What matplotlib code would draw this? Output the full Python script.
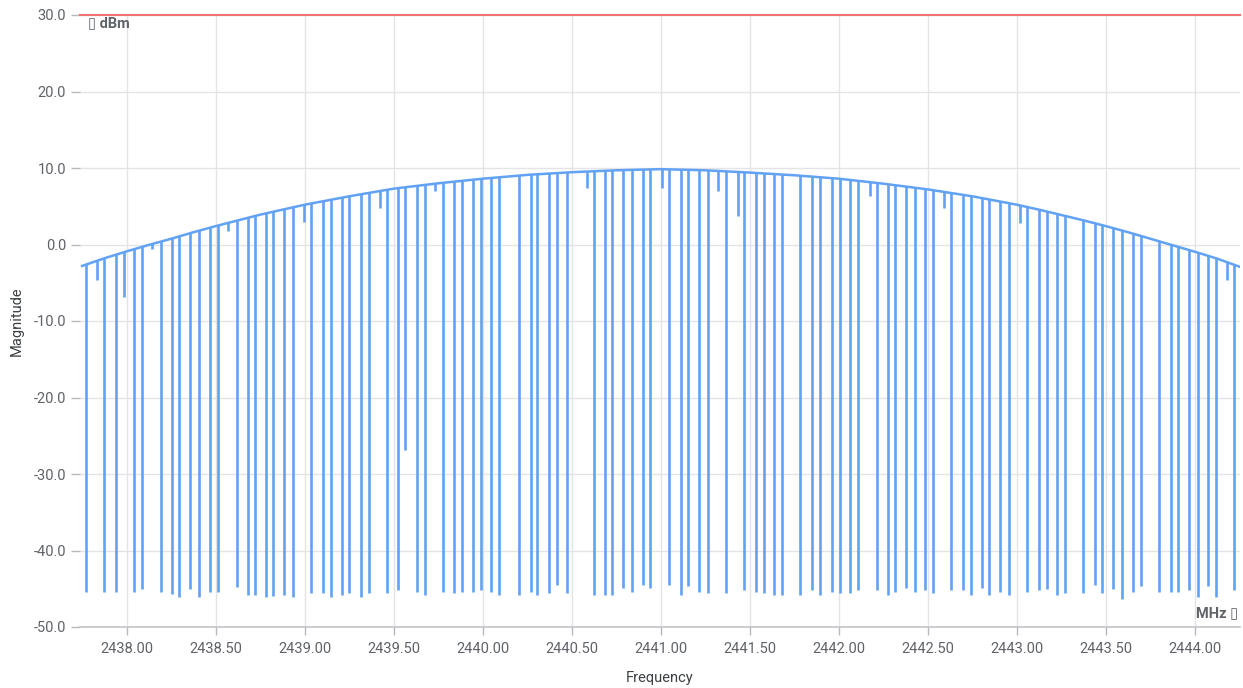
import matplotlib
matplotlib.use("Agg")
import matplotlib.pyplot as plt
from matplotlib.patches import Polygon
from matplotlib.ticker import FixedLocator, FormatStrFormatter

plt.rcParams['font.family'] = ['Roboto', 'DejaVu Sans']

# Spectrum envelope (MHz, dBm)
env_freq = [2437.75, 2437.875, 2438.00, 2438.125, 2438.25, 2438.375, 2438.50, 2438.625,
            2438.75, 2438.875, 2439.00, 2439.25, 2439.50, 2439.75, 2440.00, 2440.25,
            2440.50, 2440.75, 2441.00, 2441.25, 2441.50, 2441.75, 2442.00, 2442.25,
            2442.50, 2442.75, 2443.00, 2443.125, 2443.25, 2443.375, 2443.50, 2443.625,
            2443.75, 2443.875, 2444.00, 2444.125, 2444.25]
env_level = [-2.8, -1.8, -0.9, -0.05, 0.75, 1.6, 2.4, 3.15,
             3.9, 4.55, 5.2, 6.3, 7.3, 8.0, 8.6, 9.1,
             9.45, 9.7, 9.85, 9.7, 9.4, 9.05, 8.6, 7.95,
             7.2, 6.3, 5.2, 4.55, 3.85, 3.15, 2.4, 1.6,
             0.75, -0.1, -0.95, -1.85, -2.9]

# Notches in the spectrum: centre frequency (MHz) and floor (dBm)
dip_freq = [2437.770, 2437.835, 2437.873, 2437.938, 2437.985, 2438.041, 2438.086, 2438.144,
            2438.191, 2438.254, 2438.292, 2438.356, 2438.404, 2438.468, 2438.513, 2438.571,
            2438.618, 2438.681, 2438.721, 2438.782, 2438.823, 2438.885, 2438.932, 2438.996,
            2439.035, 2439.101, 2439.146, 2439.211, 2439.249, 2439.314, 2439.359, 2439.423,
            2439.460, 2439.522, 2439.563, 2439.629, 2439.675, 2439.732, 2439.777, 2439.840,
            2439.882, 2439.945, 2439.990, 2440.046, 2440.093, 2440.203, 2440.269, 2440.306,
            2440.370, 2440.417, 2440.473, 2440.584, 2440.623, 2440.686, 2440.724, 2440.789,
            2440.836, 2440.901, 2440.939, 2441.005, 2441.048, 2441.113, 2441.151, 2441.216,
            2441.263, 2441.319, 2441.364, 2441.432, 2441.467, 2441.534, 2441.579, 2441.636,
            2441.680, 2441.783, 2441.849, 2441.896, 2441.960, 2442.006, 2442.062, 2442.107,
            2442.175, 2442.212, 2442.276, 2442.315, 2442.379, 2442.426, 2442.482, 2442.527,
            2442.592, 2442.630, 2442.695, 2442.740, 2442.804, 2442.841, 2442.906, 2442.954,
            2443.019, 2443.056, 2443.122, 2443.167, 2443.227, 2443.270, 2443.373, 2443.438,
            2443.476, 2443.540, 2443.588, 2443.652, 2443.698, 2443.800, 2443.865, 2443.903,
            2443.966, 2444.015, 2444.071, 2444.118, 2444.180, 2444.221]
dip_floor = [-45.4, -4.6, -45.4, -45.4, -6.8, -45.4, -45.0, -0.6,
             -45.4, -45.7, -46.1, -45.0, -46.1, -45.4, -45.4, 1.8,
             -44.8, -45.8, -45.8, -46.1, -46.0, -45.8, -46.1, 3.0,
             -45.6, -45.6, -46.1, -45.8, -45.6, -46.1, -45.6, 4.8,
             -45.6, -45.2, -26.9, -45.4, -45.8, 7.0, -45.4, -45.6,
             -45.4, -45.4, -45.2, -45.4, -45.8, -45.8, -45.4, -45.8,
             -45.6, -44.5, -45.6, 7.4, -45.8, -45.8, -45.8, -44.9,
             -45.4, -44.5, -44.9, 7.4, -44.5, -45.8, -44.7, -45.4,
             -45.6, 7.0, -45.6, 3.7, -45.2, -45.4, -45.6, -45.8,
             -45.8, -45.8, -45.2, -45.8, -45.4, -45.6, -45.6, -45.2,
             6.3, -45.2, -45.8, -45.4, -44.9, -45.4, -45.2, -45.6,
             4.8, -45.2, -45.2, -45.8, -44.9, -45.8, -45.4, -45.8,
             2.8, -45.4, -45.2, -45.0, -45.8, -45.6, -45.6, -44.5,
             -45.6, -45.0, -46.3, -45.4, -44.7, -45.4, -45.4, -45.4,
             -45.2, -46.1, -44.7, -46.1, -4.6, -45.2]

limit_level = 30.0
x_ticks = [2438.0, 2438.5, 2439.0, 2439.5, 2440.0, 2440.5, 2441.0, 2441.5,
           2442.0, 2442.5, 2443.0, 2443.5, 2444.0]
y_ticks = [-50, -40, -30, -20, -10, 0, 10, 20, 30]

TRACE = '#62a2f4'
GRID = '#e4e4e7'
TEXT = '#5f6368'

W, H = 1243, 688
fig = plt.figure(figsize=(W / 100, H / 100), dpi=100)
ax = fig.add_axes([80 / W, 1 - 627 / H, 1160 / W, 612 / H])

ax.set_xlim(2437.738, 2444.253)
ax.set_ylim(-50, 30)

ax.xaxis.set_major_locator(FixedLocator(x_ticks))
ax.yaxis.set_major_locator(FixedLocator(y_ticks))
ax.xaxis.set_major_formatter(FormatStrFormatter('%.2f'))
ax.yaxis.set_major_formatter(FormatStrFormatter('%.1f'))
ax.grid(True, color=GRID, linewidth=1.0, zorder=0)
ax.set_axisbelow(True)

for side in ('left', 'right', 'top'):
    ax.spines[side].set_visible(False)
ax.spines['bottom'].set_color('#c4c4c8')
ax.spines['bottom'].set_linewidth(1.2)

ax.tick_params(axis='y', length=6.5, width=1.0, color='#b8b8bc', pad=3.5,
               labelsize=10.5, labelcolor=TEXT)
ax.tick_params(axis='x', length=6, width=1.0, color='#b8b8bc', pad=5,
               labelsize=10.5, labelcolor=TEXT)

# Envelope of the trace
ax.plot(env_freq, env_level, color=TRACE, linewidth=1.8, zorder=3,
        solid_joinstyle='round')

# Notches hang from the envelope: clip vertical strokes to the area below it
clip_poly = Polygon([(env_freq[0], -60)] + list(zip(env_freq, env_level)) +
                    [(env_freq[-1], -60)], closed=True, transform=ax.transData,
                    facecolor='none', edgecolor='none')
ax.add_patch(clip_poly)
notches = ax.vlines(dip_freq, dip_floor, [20] * len(dip_freq), colors=TRACE,
                    linewidth=1.9, zorder=3)
notches.set_clip_path(clip_poly)

# Upper limit line
ax.axhline(limit_level, color='#f07272', linewidth=1.5, zorder=4, clip_on=False)

# Unit labels inside the plot
ax.text(8 / 1160, 1 - 8 / 612, '\u25af dBm', transform=ax.transAxes,
        ha='left', va='center', fontsize=10.5, fontweight='bold', color=TEXT,
        family=['Roboto', 'DejaVu Sans'])
ax.text(1 - 2 / 1160, 14 / 612, 'MHz \u25af', transform=ax.transAxes,
        ha='right', va='center', fontsize=10.5, fontweight='bold', color=TEXT,
        family=['Roboto', 'DejaVu Sans'])

fig.text(17 / W, 1 - 321 / H, 'Magnitude', rotation=90, ha='center', va='center',
         fontsize=10.5, color='#3c4043')
fig.text(660 / W, 1 - 678 / H, 'Frequency', ha='center', va='center',
         fontsize=10.5, color='#3c4043')

fig.savefig('out.png', dpi=100, facecolor='white')
